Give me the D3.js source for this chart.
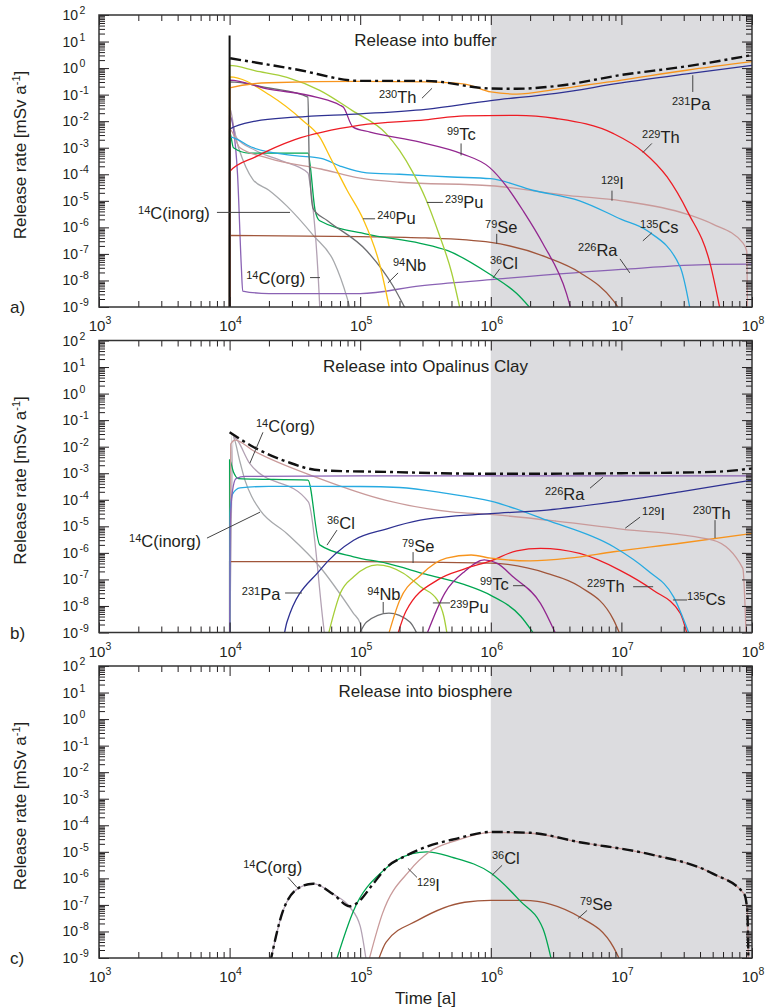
<!DOCTYPE html>
<html>
<head>
<meta charset="utf-8">
<script src="https://d3js.org/d3.v7.min.js"></script>
<style>
body { margin: 0; background: #fff; }
text { font-family: "Liberation Sans", Arial, sans-serif; fill: #231f20; }
</style>
</head>
<body>
<svg id="canvas" width="765" height="1008"></svg>
<script>
// axes: time [a] and release rate [mSv a-1], both log
let timeDomain = [1e3, 1e8]
let rateDomain = [1e-9, 1e2]
let timeExponents = [3, 4, 5, 6, 7, 8]
let rateExponents = [2, 1, 0, -1, -2, -3, -4, -5, -6, -7, -8, -9]
let shadeFrom = 1e6
let panelTitles = ['Release into buffer', 'Release into Opalinus Clay', 'Release into biosphere']
let panelLetters = ['a)', 'b)', 'c)']

// ---- a) release into buffer, [time, rate]
let totalA = [[1.01e4,2.34],[3.16e4,0.91],[1e5,0.33],[3.16e5,0.33],[1e6,0.17],[1.58e6,0.166],[3.16e6,0.21],[1e7,0.55],[3.16e7,1.17],[1e8,3.1]]
let spikeA = [[1e4,1e-10],[1e4,17]]
let th230A = [[1e4,1e-10],[1e4,0.178],[2e4,0.28],[1e5,0.316],[3.16e5,0.30],[6.31e5,0.25],[1e6,0.126],[1.58e6,0.105],[3.16e6,0.158],[1e7,0.355],[3.16e7,0.83],[1e8,1.74]]
let pa231A = [[1e4,1e-10],[1e4,5.0e-3],[1.58e4,1.0e-2],[3.16e4,1.41e-2],[1e5,1.9e-2],[3.16e5,2.8e-2],[1e6,6.0e-2],[3.16e6,0.112],[1e7,0.275],[3.16e7,0.60],[1e8,1.26]]
let th229A = [[1e4,1e-10],[1e4,1.26e-4],[1.58e4,4.5e-4],[3.16e4,2.0e-3],[1e5,7.1e-3],[3.16e5,1.12e-2],[6.31e5,1.58e-2],[1.58e6,1.66e-2],[3.16e6,1.26e-2],[8.71e6,3.4e-3],[1.48e7,6.8e-4],[2.24e7,7.9e-5],[3.24e7,3.6e-6],[4.79e7,4.1e-8],[5.75e7,6.3e-10]]
let tc99A = [[1e4,1e-10],[1e4,0.35],[1.9e4,0.17],[4.68e4,7.9e-2],[7.0e4,4.0e-2],[7.41e4,3.4e-2],[8.81e4,6.0e-3],[1.19e5,3.9e-3],[2.88e5,1.62e-3],[6.03e5,5.9e-4],[9.77e5,1.82e-4],[1.32e6,3.5e-5],[1.78e6,4.0e-6],[2.51e6,2.4e-7],[3.8e6,3.2e-9],[4.17e6,6.3e-10]]
let pu239A = [[1e4,1e-10],[1e4,1.26],[1.58e4,0.79],[2.75e4,0.45],[4.9e4,0.145],[8.71e4,2.5e-2],[1.58e5,3.4e-3],[2e5,7.9e-4],[2.51e5,1.26e-4],[3.16e5,1.26e-5],[3.98e5,6.3e-7],[5.01e5,2.0e-8],[5.89e5,6.3e-10]]
let pu240A = [[1e4,1e-10],[1e4,0.47],[2.04e4,9.5e-2],[3.63e4,1.07e-2],[4.9e4,2.5e-3],[5.89e4,4.4e-4],[7.94e4,2.5e-5],[1.05e5,2.1e-6],[1.41e5,4.0e-8],[1.7e5,6.3e-10]]
let nb94A = [[1e4,1e-10],[1e4,0.30],[2e4,0.178],[3.98e4,8.1e-2],[4.07e4,3.2e-4],[4.37e4,5.0e-6],[5.62e4,1.78e-6],[1.12e5,1.32e-7],[1.78e5,6.3e-9],[2.29e5,6.3e-10]]
let cs135A = [[1e4,1e-10],[1e4,2.5e-3],[1.51e4,1.0e-3],[3.16e4,5.0e-4],[5.01e4,4.0e-4],[7.08e4,2.0e-4],[1.12e5,1.12e-4],[2e5,1.0e-4],[5.01e5,7.9e-5],[1e6,6.8e-5],[2.09e6,2.5e-5],[4.79e6,1.0e-5],[1e7,2.0e-6],[1.58e7,7.4e-7],[2.82e7,3.2e-8],[3.39e7,6.3e-10]]
let i129A = [[1e4,1e-10],[1e4,5.0e-3],[1.2e4,1.0e-3],[2e4,4.0e-4],[5.01e4,1.58e-4],[1e5,7.1e-5],[2e5,5.0e-5],[1e6,3.7e-5],[3.98e6,1.58e-5],[1e7,1.0e-5],[3.16e7,3.16e-6],[5.01e7,1.32e-6],[8.51e7,2.6e-7],[9.12e7,1.26e-7],[9.23e7,6.3e-10]]
let c14orgA = [[1e4,1e-10],[1e4,3.2e-2],[1.12e4,2.5e-3],[1.58e4,7.9e-4],[2.51e4,3.2e-4],[3.98e4,1.12e-4],[4.12e4,4.5e-5],[4.9e4,1.0e-9],[5.0e4,1e-10]]
let c14inorgA = [[1e4,1e-10],[1e4,1.58e-2],[1.17e4,1.0e-3],[1.51e4,6.3e-5],[2e4,2.5e-5],[2.75e4,6.3e-6],[4.37e4,5.0e-7],[6.31e4,5.0e-8],[7.94e4,2.2e-9],[8.51e4,6.3e-10]]
let cl36A = [[1e4,1e-10],[1e4,4.0e-3],[1.07e4,1.0e-3],[1.41e4,6.3e-4],[3.98e4,6.3e-4],[4.52e4,4.3e-6],[4.9e4,1.78e-6],[1.12e5,5.6e-7],[2.88e5,2.5e-7],[4.68e5,1.32e-7],[9.77e5,1.74e-8],[1.58e6,3.2e-9],[2.14e6,6.3e-10]]
let ra226A = [[1e4,1e-10],[1e4,1.58e-2],[1.07e4,5.0e-3],[1.15e4,1.0e-4],[1.23e4,3.2e-8],[1.26e4,4.0e-9],[2e4,3.2e-9],[1e5,3.2e-9],[2.88e5,6.3e-9],[1e6,1.07e-8],[1e7,2.6e-8],[5e7,4.0e-8],[1e8,4.1e-8]]
let se79A = [[1e4,1e-10],[1e4,5.0e-7],[1e5,4.5e-7],[3.16e5,4.0e-7],[1e6,2.7e-7],[2.69e6,7.4e-8],[4.79e6,2.0e-8],[8.71e6,1.7e-9],[1e7,6.3e-10]]

// ---- b) release into Opalinus Clay
let totalB = [[1e4,3.5e-2],[1.51e4,1.0e-2],[2.75e4,2.7e-3],[4.9e4,1.29e-3],[1.58e5,1.12e-3],[1e6,9.5e-4],[1e7,1.0e-3],[5.01e7,1.12e-3],[1e8,1.51e-3]]
let ra226B = [[1e4,1e-10],[1.01e4,1.0e-5],[1.05e4,2.0e-4],[1.12e4,6.3e-4],[1.32e4,7.6e-4],[1e5,7.9e-4],[1e8,7.9e-4]]
let cl36B = [[1e4,1e-10],[1e4,3.2e-3],[1.07e4,1.12e-3],[1.17e4,6.3e-4],[3.98e4,5.5e-4],[4.9e4,2.0e-6],[8.91e4,7.1e-7],[1.58e5,4.1e-7],[3.16e5,1.58e-7],[6.31e5,6.3e-8],[1e6,2.5e-8],[1.7e6,4.0e-9],[2.24e6,6.3e-10]]
let cs135B = [[1e4,1e-10],[1.01e4,3.2e-5],[1.05e4,1.6e-4],[1.2e4,2.8e-4],[2e4,3.2e-4],[1e5,3.16e-4],[2e5,2.9e-4],[4.57e5,1.74e-4],[1e6,8.9e-5],[2.69e6,1.7e-5],[8.71e6,1.7e-6],[1.58e7,2.2e-7],[2.51e7,2.2e-8],[3.39e7,6.3e-10]]
let i129B = [[1e4,1e-10],[1.02e4,1.26e-2],[1.1e4,1.78e-2],[1.51e4,7.2e-3],[4.9e4,6.3e-4],[1.58e5,9.5e-5],[5.01e5,3.5e-5],[1e6,2.8e-5],[3.16e6,1.58e-5],[1e7,7.9e-6],[5.01e7,3.0e-6],[8.51e7,2.6e-7],[9.02e7,6.3e-10]]
let c14orgB = [[1e4,1e-10],[1.07e4,2.3e-2],[1.43e4,2.3e-3],[4.01e4,8.3e-5],[5.21e4,2.2e-9],[5.4e4,5e-10]]
let c14inorgB = [[1e4,1e-10],[1.04e4,3.1e-2],[1.2e4,2.7e-3],[1.31e4,5.5e-4],[1.48e4,1.29e-4],[1.71e4,4.1e-5],[2.74e4,5.4e-6],[4.9e4,3.0e-7],[8.85e4,5.4e-9],[1e5,2.2e-9],[1.05e5,5e-10]]
let pa231B = [[2.57e4,5e-10],[2.75e4,2.5e-9],[4.9e4,2.2e-7],[8.91e4,3.0e-6],[1.58e5,7.9e-6],[2.88e5,1.7e-5],[1e6,3.0e-5],[2.69e6,4.1e-5],[8.71e6,8.3e-5],[2.82e7,2.0e-4],[1e8,5.5e-4]]
let se79B = [[1e4,1e-10],[1e4,4.7e-7],[1e5,4.7e-7],[1e6,4.1e-7],[2.69e6,1.7e-7],[4.79e6,5.4e-8],[8.71e6,3.0e-9],[1e7,6.3e-10]]
let pu239B = [[5.62e4,6.3e-10],[7.08e4,3.2e-8],[8.91e4,1.26e-7],[1.35e5,3.5e-7],[2.14e5,1.7e-7],[2.88e5,5.4e-8],[3.89e5,1.7e-8],[4.37e5,4e-9],[4.68e5,6.3e-10]]
let nb94B = [[9.55e4,6.3e-10],[1.12e5,2.5e-9],[1.66e5,5.4e-9],[2.4e5,2.5e-9],[2.82e5,6.3e-10]]
let th230B = [[1.62e5,6.3e-10],[2e5,1.58e-8],[2.88e5,1.41e-7],[4.57e5,6.3e-7],[7.08e5,8.3e-7],[1e6,6.3e-7],[2e6,5.0e-7],[3.98e6,6.3e-7],[8.71e6,1.1e-6],[2.82e7,2.3e-6],[1e8,5.4e-6]]
let th229B = [[1.9e5,6.3e-10],[2.24e5,6.3e-9],[3.98e5,1.0e-7],[6.31e5,2.5e-7],[1e6,5.0e-7],[1.58e6,1.2e-6],[2.4e6,1.48e-6],[4.79e6,9.5e-7],[9.77e6,2.2e-7],[1.74e7,4.0e-8],[2.82e7,5.4e-9],[3.24e7,6.3e-10]]
let tc99B = [[3.16e5,6.3e-10],[4.47e5,3.2e-8],[6.31e5,2.0e-7],[8.91e5,5.4e-7],[1.12e6,4.0e-7],[1.48e6,1.26e-7],[2.4e6,1.26e-8],[3.24e6,6.3e-10]]

// ---- c) release into biosphere
let totalC = [[2.04e4,6.3e-10],[2.57e4,6.2e-8],[3.47e4,4.7e-7],[4.37e4,6.3e-7],[6.17e4,2.6e-7],[8.32e4,8.9e-8],[9.33e4,1.12e-7],[1.26e5,6.3e-7],[1.58e5,2.5e-6],[2.24e5,7.1e-6],[3.16e5,1.51e-5],[5.5e5,3.16e-5],[1e6,5.6e-5],[2e6,5.2e-5],[4.79e6,2.3e-5],[1.58e7,8.5e-6],[5.01e7,1.51e-6],[8.71e7,2.6e-7],[9.2e7,6.2e-8],[9.4e7,6.3e-10]]
let c14orgC = [[2.04e4,6.3e-10],[2.57e4,6.2e-8],[3.47e4,4.7e-7],[4.37e4,6.3e-7],[6.17e4,2.6e-7],[8.32e4,8.3e-8],[1e5,1.58e-8],[1.12e5,6.3e-10]]
let cl36C = [[6.46e4,6.3e-10],[8.91e4,6.2e-8],[1.51e5,2.0e-6],[2.51e5,8.5e-6],[3.24e5,1.0e-5],[5.01e5,6.3e-6],[1e6,1.58e-6],[1.66e6,1.48e-7],[2.51e6,1.26e-8],[2.95e6,6.3e-10]]
let i129C = [[1.15e5,6.3e-10],[1.48e5,4.7e-8],[2.4e5,2.0e-6],[3.39e5,1.0e-5],[5.5e5,2.7e-5],[1e6,5.4e-5],[2e6,5.0e-5],[4.79e6,2.3e-5],[1.58e7,8.5e-6],[5.01e7,1.51e-6],[8.71e7,2.6e-7],[9.2e7,6.2e-8],[9.4e7,6.3e-10]]
let se79C = [[1.35e5,6.3e-10],[1.58e5,4.0e-9],[2.75e5,2.6e-8],[6.31e5,1.26e-7],[1e6,1.48e-7],[1.78e6,1.48e-7],[4.79e6,3.5e-8],[8.71e6,2.5e-9],[1e7,6.3e-10]]

// nuclide labels: anchor [time, rate] and leader line ends
let labelsA = [
  {sup:'230', txt:'Th', at:[1.39e5,4.7e-2], lead:[[2.97e5,7.3e-2],[3.55e5,0.174]]},
  {sup:'231', txt:'Pa', at:[2.44e7,2.56e-2], lead:[[3.52e7,0.54],[3.52e7,0.126]]},
  {sup:'229', txt:'Th', at:[1.44e7,1.45e-3], lead:[[1.46e7,6.6e-4],[1.71e7,1.45e-3]]},
  {sup:'99', txt:'Tc', at:[4.62e5,1.88e-3], lead:[[5.92e5,1.45e-3],[5.92e5,5.1e-4]]},
  {sup:'129', txt:'I', at:[6.98e6,2.88e-5], lead:[[8.47e6,2.42e-5],[8.47e6,1.01e-5]]},
  {sup:'239', txt:'Pu', at:[4.46e5,5.5e-6], lead:[[3.24e5,8.7e-6],[4.3e5,8.7e-6]]},
  {sup:'240', txt:'Pu', at:[1.35e5,1.37e-6], lead:[[1.05e5,2.1e-6],[1.3e5,2.1e-6]]},
  {sup:'79', txt:'Se', at:[9.04e5,6.25e-7], lead:[[1.11e6,5.7e-7],[1.11e6,2.4e-7]]},
  {sup:'36', txt:'Cl', at:[9.86e5,2.72e-8], lead:[[1.04e6,1.24e-8],[1.17e6,2.72e-8]]},
  {sup:'135', txt:'Cs', at:[1.39e7,6.25e-7], lead:[[1.46e7,3.1e-7],[1.71e7,6.25e-7]]},
  {sup:'226', txt:'Ra', at:[4.66e6,8.4e-8], lead:[[9.75e6,6.5e-8],[1.16e7,1.92e-8]]},
  {sup:'94', txt:'Nb', at:[1.78e5,2.29e-8], lead:[[1.95e5,1.92e-8],[1.63e5,8.1e-9]]},
  {sup:'14', txt:'C(inorg)', at:[1.99e3,2.11e-6], lead:[[8.0e3,3.66e-6],[2.9e4,3.66e-6]]},
  {sup:'14', txt:'C(org)', at:[1.34e4,7.4e-9], lead:[[4.13e4,1.28e-8],[4.92e4,1.28e-8]]}
]
let labelsB = [
  {sup:'14', txt:'C(org)', at:[1.59e4,3.57e-2], lead:[[1.8e4,3.48e-2],[1.43e4,2.38e-3]]},
  {sup:'14', txt:'C(inorg)', at:[1.7e3,1.69e-6], lead:[[6.71e3,3.6e-6],[1.71e4,3.42e-5]]},
  {sup:'36', txt:'Cl', at:[5.57e4,7.85e-6], lead:[[6.64e4,7.2e-6],[5.57e4,1.96e-6]]},
  {sup:'231', txt:'Pa', at:[1.24e4,1.68e-8], lead:[[2.66e4,3.08e-8],[3.58e4,3.08e-8]]},
  {sup:'79', txt:'Se', at:[2.09e5,1.1e-6], lead:[[2.54e5,1.07e-6],[2.54e5,4.14e-7]]},
  {sup:'94', txt:'Nb', at:[1.13e5,1.68e-8], lead:[[1.5e5,1.41e-8],[1.5e5,5.46e-9]]},
  {sup:'239', txt:'Pu', at:[4.88e5,5.46e-9], lead:[[3.6e5,1.3e-8],[4.88e5,1.3e-8]]},
  {sup:'99', txt:'Tc', at:[8.26e5,4.0e-8], lead:[[1.48e6,5.8e-8],[1.83e6,5.8e-8]]},
  {sup:'229', txt:'Th', at:[5.46e6,3.45e-8], lead:[[1.23e7,5.3e-8],[1.75e7,5.3e-8]]},
  {sup:'135', txt:'Cs', at:[3.18e7,1.09e-8], lead:[[2.48e7,1.68e-8],[3.18e7,1.68e-8]]},
  {sup:'226', txt:'Ra', at:[2.6e6,9.7e-5], lead:[[5.75e6,2.73e-4],[7.23e6,7.1e-4]]},
  {sup:'129', txt:'I', at:[1.44e7,1.71e-5], lead:[[1.07e7,8.5e-6],[1.39e7,2.22e-5]]},
  {sup:'230', txt:'Th', at:[3.53e7,1.87e-5], lead:[[5.21e7,1.71e-5],[5.21e7,3.6e-6]]}
]
let labelsC = [
  {sup:'14', txt:'C(org)', at:[1.27e4,1.55e-6], lead:[[2.8e4,1.09e-6],[3.28e4,4.57e-7]]},
  {sup:'129', txt:'I', at:[2.72e5,3.2e-7], lead:[[2.32e5,2.38e-6],[2.72e5,1.09e-6]]},
  {sup:'36', txt:'Cl', at:[1.02e6,3.37e-6], lead:[[1.02e6,1.3e-6],[1.22e6,3.1e-6]]},
  {sup:'79', txt:'Se', at:[4.82e6,6.2e-8], lead:[[4.66e6,3.1e-8],[5.46e6,6.2e-8]]}
]

let colors = {
  th230: '#f7941d', pa231: '#2e3192', th229: '#ed1c24', tc99: '#92278f',
  pu239: '#a6ce39', pu240: '#fcc010', nb94: '#6d6e71', cs135: '#27aae1',
  i129: '#c99a9a', c14org: '#b3a2b4', c14inorg: '#a7a9ac', cl36: '#00a651',
  ra226: '#8a62b4', se79: '#a0553a'
}

let panels = [
  {series: [['c14inorg', c14inorgA], ['c14org', c14orgA], ['ra226', ra226A], ['se79', se79A], ['cl36', cl36A], ['i129', i129A], ['cs135', cs135A], ['nb94', nb94A], ['pu240', pu240A], ['pu239', pu239A], ['tc99', tc99A], ['th229', th229A], ['pa231', pa231A], ['th230', th230A]],
   total: totalA, spike: spikeA, labels: labelsA},
  {series: [['c14inorg', c14inorgB], ['c14org', c14orgB], ['nb94', nb94B], ['pu239', pu239B], ['se79', se79B], ['cl36', cl36B], ['tc99', tc99B], ['th229', th229B], ['th230', th230B], ['i129', i129B], ['cs135', cs135B], ['pa231', pa231B], ['ra226', ra226B]],
   total: totalB, spike: null, labels: labelsB},
  {series: [['c14org', c14orgC], ['se79', se79C], ['cl36', cl36C], ['i129', i129C]],
   total: totalC, spike: null, labels: labelsC}
]

let canvas = d3.select('#canvas')
let left = 99, right = 752
let panelTops = [15, 340.5, 666]
let panelHeight = 292
let ink = '#231f20'

let x = d3.scaleLog().domain(timeDomain).range([left, right])

let timeMajors = timeExponents.map(e => Math.pow(10, e))
let timeMinors = timeExponents.slice(0, -1).flatMap(e => d3.range(2, 10).map(m => m * Math.pow(10, e)))
let rateMajors = rateExponents.map(e => Math.pow(10, e))
let rateMinors = rateExponents.slice(1).flatMap(e => d3.range(2, 10).map(m => m * Math.pow(10, e)))

let defs = canvas.append('defs')

let drawTicks = (g, axisFn, scale, pos, majors, minors) => {
  [[majors, 10], [minors, 6]].forEach(([vals, len]) => {
    g.append('g')
      .attr('transform', pos)
      .attr('color', ink)
      .call(axisFn(scale).tickValues(vals).tickSizeInner(-len).tickSizeOuter(0).tickFormat(''))
      .call(a => a.select('.domain').remove())
  })
}

let supText = (sel, base, sup, supSize, shift) => {
  sel.append('tspan').text(base)
  sel.append('tspan').attr('font-size', supSize).attr('dy', -shift).text(sup)
}

let drawPanel = (panel, i) => {
  let top = panelTops[i]
  let bottom = top + panelHeight
  let y = d3.scaleLog().domain(rateDomain).range([bottom, top])
  let g = canvas.append('g')

  defs.append('clipPath').attr('id', 'clip' + i)
    .append('rect').attr('x', left).attr('y', top).attr('width', right - left).attr('height', panelHeight)

  // shaded part beyond 1 Ma
  g.append('rect')
    .attr('x', x(shadeFrom)).attr('y', top)
    .attr('width', x(timeDomain[1]) - x(shadeFrom)).attr('height', panelHeight)
    .attr('fill', '#dcdcdf')

  let line = d3.line().x(d => x(d[0])).y(d => y(d[1])).curve(d3.curveMonotoneX)
  let plot = g.append('g').attr('clip-path', `url(#clip${i})`)

  plot.selectAll('path.nuclide')
    .data(panel.series)
    .enter()
    .append('path')
    .attr('class', 'nuclide')
    .attr('d', s => line(s[1]))
    .attr('fill', 'none')
    .attr('stroke', s => colors[s[0]])
    .attr('stroke-width', 1.3)

  if (panel.spike) {
    plot.append('path').attr('d', line(panel.spike))
      .attr('fill', 'none').attr('stroke', '#111').attr('stroke-width', 2)
  }
  plot.append('path').attr('d', line(panel.total))
    .attr('fill', 'none').attr('stroke', '#111').attr('stroke-width', 2.4)
    .attr('stroke-dasharray', '11,4,3,4')

  // ticks on all four sides, pointing inward
  drawTicks(g, d3.axisBottom, x, `translate(0,${bottom})`, timeMajors, timeMinors)
  drawTicks(g, d3.axisTop, x, `translate(0,${top})`, timeMajors, timeMinors)
  drawTicks(g, d3.axisLeft, y, `translate(${left},0)`, rateMajors, rateMinors)
  drawTicks(g, d3.axisRight, y, `translate(${right},0)`, rateMajors, rateMinors)

  g.append('rect')
    .attr('x', left).attr('y', top).attr('width', right - left).attr('height', panelHeight)
    .attr('fill', 'none').attr('stroke', '#333').attr('stroke-width', 1.5)

  // tick labels
  timeExponents.forEach(e => {
    g.append('text')
      .attr('x', x(Math.pow(10, e)) + 1).attr('y', bottom + 24)
      .attr('text-anchor', 'middle').attr('font-size', 15)
      .call(t => supText(t, '10', e, 10.5, 7))
  })
  rateExponents.forEach(e => {
    let yy = y(Math.pow(10, e)) + 5
    g.append('text').attr('x', 78).attr('y', yy).attr('text-anchor', 'end').attr('font-size', 14).text('10')
    g.append('text').attr('x', 79.5).attr('y', yy - 6).attr('font-size', 10.5).text(e < 0 ? '-' + (-e) : e)
  })

  // axis title and panel letter
  g.append('text')
    .attr('transform', `translate(26,${top + panelHeight / 2 - 6}) rotate(-90)`)
    .attr('text-anchor', 'middle').attr('font-size', 17)
    .call(t => {
      t.append('tspan').text('Release rate [mSv a')
      t.append('tspan').attr('font-size', 11).attr('dy', -6).text('-1')
      t.append('tspan').attr('dy', 6).text(']')
    })
  g.append('text').attr('x', 10).attr('y', bottom + 6).attr('font-size', 17).text(panelLetters[i])

  g.append('text')
    .attr('x', (left + right) / 2).attr('y', top + 31)
    .attr('text-anchor', 'middle').attr('font-size', 17)
    .text(panelTitles[i])

  // nuclide labels with leader lines
  panel.labels.forEach(l => {
    g.append('line')
      .attr('x1', x(l.lead[0][0])).attr('y1', y(l.lead[0][1]))
      .attr('x2', x(l.lead[1][0])).attr('y2', y(l.lead[1][1]))
      .attr('stroke', '#444').attr('stroke-width', 1)
    let t = g.append('text').attr('x', x(l.at[0])).attr('y', y(l.at[1])).attr('font-size', 16.5)
    t.append('tspan').attr('font-size', 11).attr('dy', -5).text(l.sup)
    t.append('tspan').attr('dy', 5).text(l.txt)
  })
}

panels.forEach(drawPanel)

canvas.append('text')
  .attr('x', (left + right) / 2).attr('y', 1004)
  .attr('text-anchor', 'middle').attr('font-size', 17)
  .text('Time [a]')
</script>
</body>
</html>
